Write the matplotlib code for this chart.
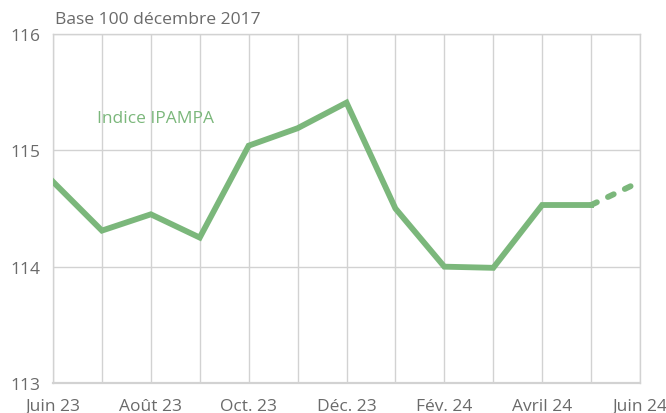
import matplotlib.pyplot as plt
import numpy as np

plt.rcParams['font.family'] = ['Open Sans', 'DejaVu Sans']

# valeurs
mois = ['Juin 23', 'Juil. 23', 'Août 23', 'Sept. 23', 'Oct. 23', 'Nov. 23', 'Déc. 23',
        'Janv. 24', 'Fév. 24', 'Mars 24', 'Avril 24', 'Mai 24', 'Juin 24']
indice = [114.73, 114.31, 114.45, 114.25, 115.04, 115.19, 115.41,
          114.50, 114.00, 113.99, 114.53, 114.53]
prevision = [114.53, 114.73]
yticks = [113, 114, 115, 116]

green = '#7bb77b'
gray = '#6a6a6a'
gridc = '#d2d2d2'

fig = plt.figure(figsize=(6.66, 4.14), dpi=100)
ax = fig.add_axes([53/666, 1-384/414, (640-53)/666, (384-35)/414])

x = np.arange(len(mois))
ax.plot(x[:len(indice)], indice, color=green, lw=4.2, solid_joinstyle='miter', zorder=3)
ax.plot(x[len(indice)-1:], prevision, color=green, lw=4.2, ls=(0, (1.1, 2.1)),
        dash_capstyle='round', zorder=3)

ax.set_xlim(0, len(mois)-1)
ax.set_ylim(113, 116)
ax.set_yticks(yticks)
ax.set_xticks(x)
ax.set_xticklabels([m if i % 2 == 0 else '' for i, m in enumerate(mois)])
ax.grid(True, color=gridc, lw=1)
ax.set_axisbelow(True)
for s in ax.spines.values():
    s.set_color(gridc)
    s.set_linewidth(1)
ax.spines['bottom'].set_linewidth(1.6)
ax.tick_params(length=0, labelsize=12.5, colors=gray)
ax.tick_params(axis='y', pad=9)
ax.tick_params(axis='x', pad=11)

fig.text(55/666, 1-20/414, 'Base 100 décembre 2017', fontsize=12.6, color=gray, va='center')
ax.text(2.1, 115.28, 'Indice IPAMPA', fontsize=12.5, color=green, ha='center', va='center')

fig.savefig('out.png', dpi=100)
